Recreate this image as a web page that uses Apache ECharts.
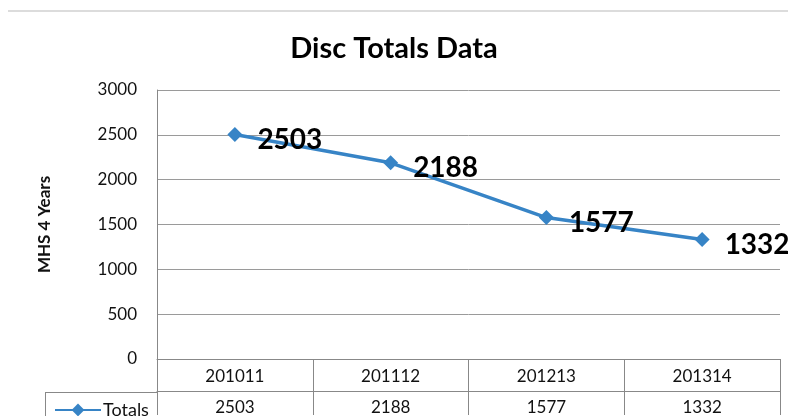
<!DOCTYPE html>
<html>
<head>
<meta charset="utf-8">
<script src="https://cdn.jsdelivr.net/npm/echarts@6/dist/echarts.min.js"></script>
<style>
html,body{margin:0;padding:0;background:#fff;}
#c{width:788px;height:416px;}
</style>
</head>
<body>
<div id="c"></div>
<script>
const categories = ['201011', '201112', '201213', '201314'];
const totals = [2503, 2188, 1577, 1332];
const yTicks = [0, 500, 1000, 1500, 2000, 2500, 3000];
const seriesName = 'Totals';
const titleText = 'Disc Totals Data';
const yAxisName = 'MHS 4 Years';

const FONT = 'Lato, "Liberation Sans", sans-serif';
const LINE_COLOR = '#3784C6';
const GRID_COLOR = '#9a9a9a';
const TEXT = '#111';

const chart = echarts.init(document.getElementById('c'));
chart.setOption({
  animation: false,
  backgroundColor: '#fff',
  title: {
    text: titleText,
    left: 'center',
    top: 29,
    textStyle: { fontFamily: FONT, fontSize: 29, fontWeight: 'bold', color: '#000' }
  },
  grid: { left: 157, right: 8, top: 90, bottom: 56, containLabel: false },
  legend: {
    left: 49,
    top: 396,
    itemWidth: 46,
    itemHeight: 16,
    itemGap: 2,
    data: [seriesName],
    textStyle: { fontFamily: FONT, fontSize: 18, color: TEXT, padding: [0, 0, 0, -3] }
  },
  xAxis: [
    {
      type: 'category',
      data: categories,
      boundaryGap: true,
      axisLine: { show: true, lineStyle: { color: '#888', width: 1 } },
      axisTick: { show: true, length: 56, interval: 0, lineStyle: { color: '#888' } },
      axisLabel: { fontFamily: FONT, fontSize: 17, color: TEXT, margin: 9, interval: 0 },
      splitLine: { show: false }
    },
    {
      type: 'category',
      data: categories,
      position: 'bottom',
      offset: 32,
      boundaryGap: true,
      axisLine: { show: true, lineStyle: { color: '#888', width: 1 } },
      axisTick: { show: false },
      axisLabel: {
        fontFamily: FONT, fontSize: 17, color: TEXT, margin: 8, interval: 0,
        formatter: (v, i) => String(totals[i])
      },
      splitLine: { show: false }
    }
  ],
  yAxis: {
    type: 'value',
    min: yTicks[0],
    max: yTicks[yTicks.length - 1],
    interval: yTicks[1] - yTicks[0],
    name: yAxisName,
    nameLocation: 'middle',
    nameRotate: 90,
    nameGap: 104,
    nameTextStyle: { fontFamily: FONT, fontSize: 17, fontWeight: 'bold', color: TEXT },
    axisLine: { show: true, lineStyle: { color: '#888', width: 1 } },
    axisTick: { show: false },
    axisLabel: { fontFamily: FONT, fontSize: 17, color: TEXT, margin: 20, formatter: v => String(v) },
    splitLine: { show: true, lineStyle: { color: GRID_COLOR, width: 1 } }
  },
  series: [{
    name: seriesName,
    type: 'line',
    xAxisIndex: 0,
    data: totals,
    symbol: 'diamond',
    symbolSize: 15,
    lineStyle: { color: LINE_COLOR, width: 3.5 },
    itemStyle: { color: LINE_COLOR },
    label: {
      show: true,
      position: 'right',
      distance: 15,
      offset: [0, 5],
      fontFamily: FONT,
      fontSize: 28,
      fontWeight: 'bold',
      color: '#000'
    },
    z: 3
  }],
  graphic: [
    { type: 'line', shape: { x1: 8, y1: 11, x2: 788, y2: 11 }, style: { stroke: '#dcdcdc', lineWidth: 2 } },
    { type: 'line', shape: { x1: 45, y1: 392.5, x2: 157, y2: 392.5 }, style: { stroke: '#888', lineWidth: 1 } },
    { type: 'line', shape: { x1: 45.5, y1: 392, x2: 45.5, y2: 416 }, style: { stroke: '#888', lineWidth: 1 } }
  ]
});
</script>
</body>
</html>
